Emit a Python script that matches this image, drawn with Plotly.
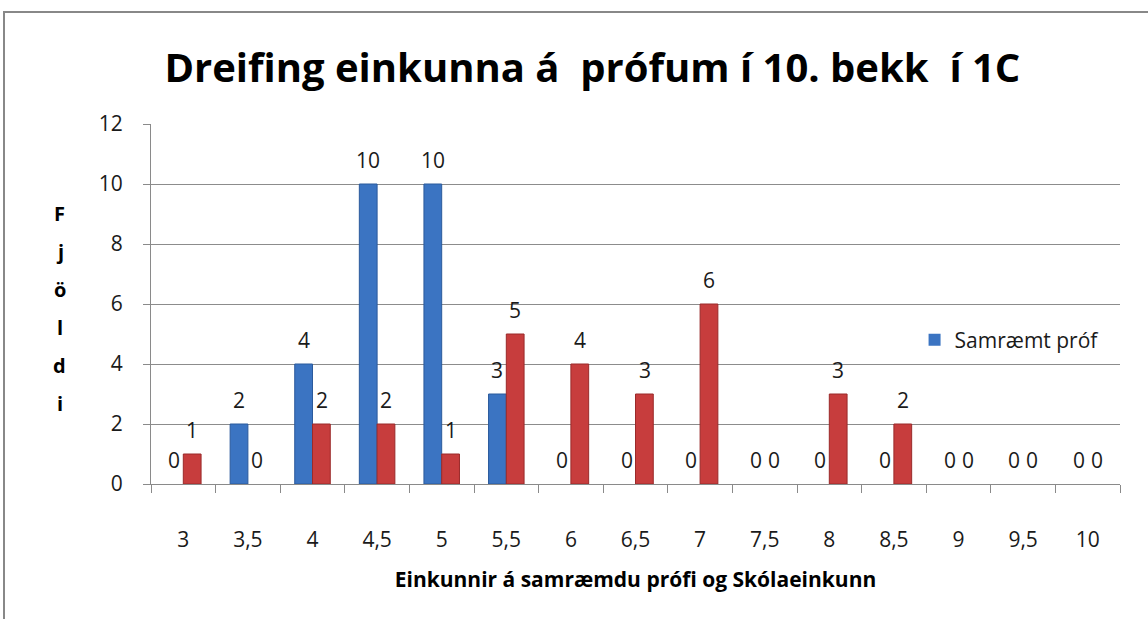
import plotly.graph_objects as go

categories = ["3", "3,5", "4", "4,5", "5", "5,5", "6", "6,5", "7", "7,5", "8", "8,5", "9", "9,5", "10"]
samraemt = [0, 2, 4, 10, 10, 3, 0, 0, 0, 0, 0, 0, 0, 0, 0]
skola = [1, 0, 2, 2, 1, 5, 4, 3, 6, 0, 3, 2, 0, 0, 0]
y_ticks = [0, 2, 4, 6, 8, 10, 12]
y_title_letters = ["F", "j", "ö", "l", "d", "i"]

FONT = "Open Sans"
TXT = "#1a1a1a"

fig = go.Figure()
fig.add_trace(go.Bar(
    x=categories, y=samraemt, name="Samræmt próf",
    marker=dict(color="#3b74c2",
                line=dict(color="#2b5a9c", width=[1 if v else 0 for v in samraemt])),
))
fig.add_trace(go.Bar(
    x=categories, y=skola, name="Skólaeinkunn", showlegend=False,
    marker=dict(color="#c73d3d",
                line=dict(color="#9a2a2a", width=[1 if v else 0 for v in skola])),
))

# data labels above each bar (x given as category index on the category axis)
for series, shift in ((samraemt, -9), (skola, 9)):
    for idx, val in enumerate(series):
        fig.add_annotation(x=idx, y=val, text=str(val), showarrow=False,
                           xshift=shift, yshift=24, xanchor="center", yanchor="middle",
                           font=dict(size=21, color=TXT, family=FONT))

fig.update_layout(
    width=1148, height=619,
    paper_bgcolor="white", plot_bgcolor="white",
    margin=dict(l=151, r=28, t=124, b=135),
    barmode="group", bargap=0.45, bargroupgap=0,
    font=dict(family=FONT, size=21, color=TXT),
    title=dict(text="<b>Dreifing einkunna á  prófum í 10. bekk  í 1C</b>",
               x=0.516, xanchor="center", y=0.89, yanchor="middle",
               font=dict(size=40, color="#000000", family=FONT)),
    showlegend=True,
    legend=dict(x=0.788, y=0.40, xanchor="left", yanchor="middle",
                bgcolor="rgba(0,0,0,0)", font=dict(size=21, color=TXT)),
)
fig.update_xaxes(
    type="category", showline=True, linecolor="#8a8a8a", linewidth=1,
    ticks="outside", tickson="boundaries", ticklen=8, tickcolor="#8a8a8a",
    showgrid=False, tickfont=dict(size=21, color=TXT), ticklabelstandoff=37,
    title=dict(text="<b>Einkunnir á samræmdu prófi og Skólaeinkunn</b>",
               font=dict(size=21, color="#000000"), standoff=20),
)
fig.update_yaxes(
    range=[0, 12], tickvals=y_ticks, showline=True, linecolor="#8a8a8a", linewidth=1,
    ticks="outside", ticklen=7, tickcolor="#8a8a8a",
    showgrid=True, gridcolor="#8c8c8c", gridwidth=1, zeroline=False,
    tickfont=dict(size=21, color=TXT), ticklabelstandoff=16,
)
for i, ch in enumerate(y_title_letters):
    fig.add_annotation(
        text=f"<b>{ch}</b>", xref="paper", yref="paper",
        x=-0.094, y=(484 - 213 - 38 * i) / 360, xanchor="center", yanchor="middle",
        showarrow=False, font=dict(size=20, color="#000000"),
    )
fig.add_shape(type="rect", xref="paper", yref="paper",
              x0=-0.1517, x1=1.2, y0=-0.6, y1=1.311,
              line=dict(color="#888888", width=2), layer="below")
fig.write_html("out.html", config={"displayModeBar": False},
               post_script="document.body.style.margin='0';")
